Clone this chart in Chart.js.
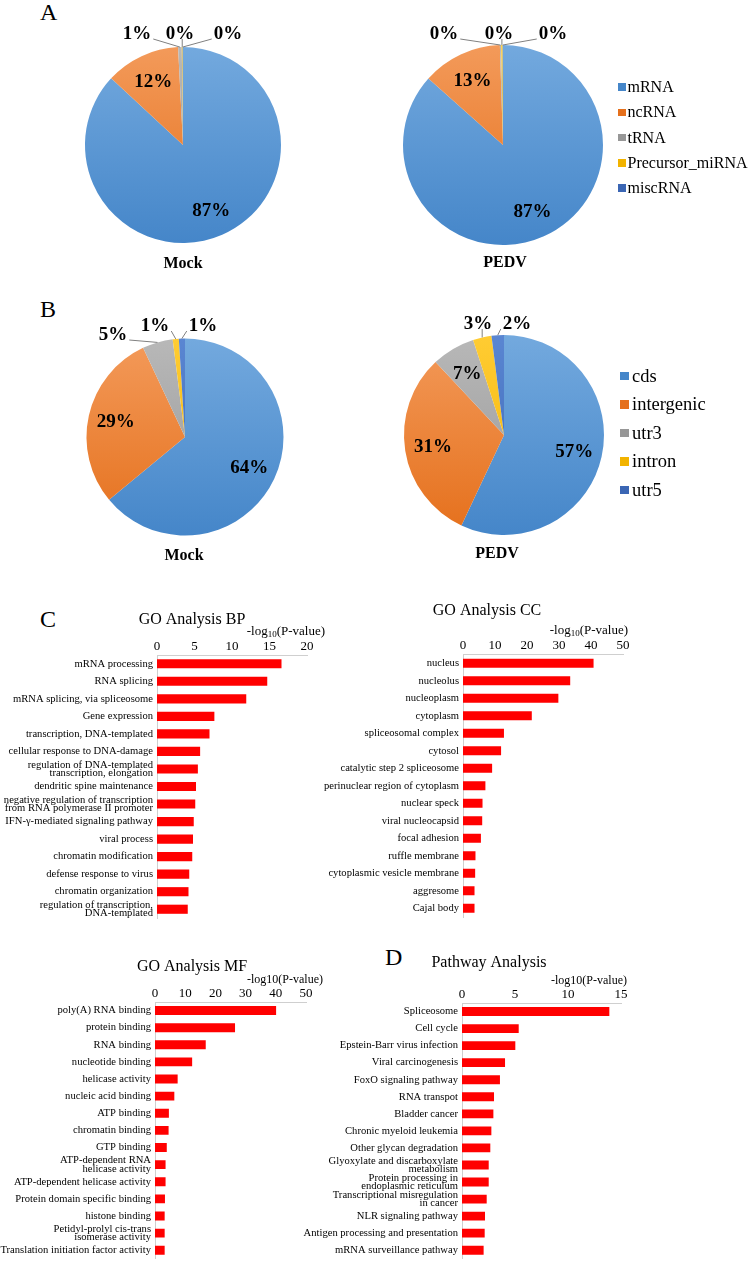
<!DOCTYPE html>
<html>
<head>
<meta charset="utf-8">
<script src="https://cdn.jsdelivr.net/npm/chart.js@4.4.1/dist/chart.umd.min.js"></script>
<style>
  body { margin: 0; background: #fff; }
  #page { position: relative; width: 748px; height: 1267px; overflow: hidden;
          font-family: "Liberation Serif", "Times New Roman", serif; color: #000; }
  #page canvas { position: absolute; }
  .letter { position: absolute; font-size: 24px; line-height: 24px; }
  .group { position: absolute; width: 100px; text-align: center; font-weight: bold;
           font-size: 16px; line-height: 16px; }
  .row { position: absolute; display: flex; align-items: center; white-space: nowrap; }
  .row span { display: inline-block; }
</style>
</head>
<body>
<div id="page">
  <div class="letter" style="left:40px;top:0px">A</div>
  <div class="letter" style="left:40px;top:297px">B</div>
  <div class="letter" style="left:40px;top:607px">C</div>
  <div class="letter" style="left:385px;top:945px">D</div>

  <canvas id="pieA1" width="260" height="260" style="left:53px;top:15px"></canvas>
  <canvas id="pieA2" width="260" height="260" style="left:373px;top:15px"></canvas>
  <canvas id="pieB1" width="260" height="260" style="left:55px;top:307px"></canvas>
  <canvas id="pieB2" width="260" height="260" style="left:374px;top:305px"></canvas>

  <div class="group" style="left:133px;top:255px">Mock</div>
  <div class="group" style="left:455px;top:254px">PEDV</div>
  <div class="group" style="left:134px;top:547px">Mock</div>
  <div class="group" style="left:447px;top:545px">PEDV</div>

  <div id="legendA"></div>
  <div id="legendB"></div>

  <canvas id="barBP" width="384" height="330" style="left:0px;top:600px"></canvas>
  <canvas id="barCC" width="374" height="330" style="left:300px;top:600px"></canvas>
  <canvas id="barMF" width="384" height="327" style="left:0px;top:940px"></canvas>
  <canvas id="barPW" width="398" height="327" style="left:290px;top:940px"></canvas>
</div>

<script>
// ---- A: RNA types (%) ----
const rnaTypes = ["mRNA", "ncRNA", "tRNA", "Precursor_miRNA", "miscRNA"];
const rnaMock = [86.9, 12.3, 0.6, 0.15, 0.05];
const rnaPedv = [86.6, 12.9, 0.2, 0.25, 0.05];

// ---- B: genomic regions (%) ----
const regions = ["cds", "intergenic", "utr3", "intron", "utr5"];
const regionMock = [64, 29, 5, 1, 1];
const regionPedv = [57, 31, 7, 3, 2];

// ---- C: GO terms, -log10(P-value) ----
const bpTerms = ["mRNA processing", "RNA splicing", "mRNA splicing, via spliceosome", "Gene expression",
  "transcription, DNA-templated", "cellular response to DNA-damage",
  ["regulation of DNA-templated", "transcription, elongation"], "dendritic spine maintenance",
  ["negative regulation of transcription", "from RNA polymerase II promoter"],
  "IFN-\u03b3-mediated signaling pathway", "viral process", "chromatin modification",
  "defense response to virus", "chromatin organization", ["regulation of transcription,", "DNA-templated"]];
const bpValues = [16.6, 14.7, 11.9, 7.65, 7.0, 5.75, 5.45, 5.2, 5.1, 4.9, 4.8, 4.7, 4.3, 4.2, 4.1];

const ccTerms = ["nucleus", "nucleolus", "nucleoplasm", "cytoplasm", "spliceosomal complex", "cytosol",
  "catalytic step 2 spliceosome", "perinuclear region of cytoplasm", "nuclear speck", "viral nucleocapsid",
  "focal adhesion", "ruffle membrane", "cytoplasmic vesicle membrane", "aggresome", "Cajal body"];
const ccValues = [40.8, 33.5, 29.8, 21.5, 12.8, 11.9, 9.1, 7.0, 6.1, 6.0, 5.6, 3.9, 3.8, 3.6, 3.6];

const mfTerms = ["poly(A) RNA binding", "protein binding", "RNA binding", "nucleotide binding",
  "helicase activity", "nucleic acid binding", "ATP binding", "chromatin binding", "GTP binding",
  ["ATP-dependent RNA", "helicase activity"], "ATP-dependent helicase activity",
  "Protein domain specific binding", "histone binding", ["Petidyl-prolyl cis-trans", "isomerase activity"],
  "Translation initiation factor activity"];
const mfValues = [40.1, 26.5, 16.8, 12.3, 7.5, 6.4, 4.6, 4.5, 3.9, 3.5, 3.5, 3.3, 3.2, 3.2, 3.2];

// ---- D: KEGG pathways, -log10(P-value) ----
const pathways = ["Spliceosome", "Cell cycle", "Epstein-Barr virus infection", "Viral carcinogenesis",
  "FoxO signaling pathway", "RNA transpot", "Bladder cancer", "Chronic myeloid leukemia",
  "Other glycan degradation", ["Glyoxylate and discarboxylate", "metabolism"],
  ["Protein processing in", "endoplasmic reticulum"], ["Transcriptional misregulation", "in cancer"],
  "NLR signaling pathway", "Antigen processing and presentation", "mRNA surveillance pathway"];
const pathwayValues = [13.9, 5.35, 5.03, 4.06, 3.58, 3.02, 2.96, 2.77, 2.67, 2.52, 2.52, 2.33, 2.17, 2.14, 2.04];

const SERIF = '"Liberation Serif", "Times New Roman", serif';
// top / bottom colours of the office-style gradient fill
const sliceColors = [
  ["#73a9de", "#4586c9"],
  ["#f39a5a", "#e5701c"],
  ["#b8b8b8", "#979797"],
  ["#ffcc33", "#f2b300"],
  ["#5a86d2", "#3b66b4"]
];

function sliceFill(ctx) {
  const c = sliceColors[ctx.dataIndex];
  const area = ctx.chart.chartArea;
  if (!area) return c[0];
  const g = ctx.chart.ctx.createLinearGradient(0, area.top, 0, area.bottom);
  g.addColorStop(0, c[0]);
  g.addColorStop(1, c[1]);
  return g;
}

// percentage labels, inside the big slices and outside with a leader line for the thin ones
const pieLabels = {
  id: "pieLabels",
  afterDatasetsDraw(chart, args, opts) {
    const meta = chart.getDatasetMeta(0);
    const data = chart.data.datasets[0].data;
    const total = data.reduce((a, b) => a + b, 0);
    const ctx = chart.ctx;
    ctx.save();
    ctx.font = "bold 19px " + SERIF;
    ctx.fillStyle = "#000";
    ctx.textAlign = "center";
    ctx.textBaseline = "middle";
    meta.data.forEach((arc, i) => {
      const txt = Math.round(data[i] / total * 100) + "%";
      const mid = (arc.startAngle + arc.endAngle) / 2;
      const out = opts.outside[i];
      if (!out) {
        const r = arc.outerRadius * 0.72;
        ctx.fillText(txt, arc.x + Math.cos(mid) * r, arc.y + Math.sin(mid) * r + 1);
        return;
      }
      const lx = arc.x + out.dx, ly = arc.y + out.dy;
      const half = ctx.measureText(txt).width / 2;
      const px = arc.x + Math.cos(mid) * arc.outerRadius;
      const py = arc.y + Math.sin(mid) * arc.outerRadius;
      const sx = Math.min(Math.max(px, lx - half - 2), lx + half + 2);
      ctx.strokeStyle = "#808080";
      ctx.lineWidth = 1;
      ctx.beginPath();
      ctx.moveTo(sx, ly + 6);
      ctx.lineTo(px, py);
      ctx.stroke();
      ctx.fillText(txt, lx, ly + 1);
    });
    ctx.restore();
  }
};

function pieChart(id, labels, values, radius, outside) {
  return new Chart(document.getElementById(id), {
    type: "pie",
    data: {
      labels: labels,
      datasets: [{ data: values, backgroundColor: sliceFill, borderWidth: 0 }]
    },
    options: {
      responsive: false,
      animation: false,
      layout: { padding: 130 - radius },
      plugins: {
        legend: { display: false },
        tooltip: { enabled: false },
        pieLabels: { outside: outside }
      }
    },
    plugins: [pieLabels]
  });
}

pieChart("pieA1", rnaTypes, rnaMock, 98,
  { 2: { dx: -46, dy: -112 }, 3: { dx: -3, dy: -112 }, 4: { dx: 45, dy: -112 } });
pieChart("pieA2", rnaTypes, rnaPedv, 100,
  { 2: { dx: -59, dy: -112 }, 3: { dx: -4, dy: -112 }, 4: { dx: 50, dy: -112 } });
pieChart("pieB1", regions, regionMock, 98.5,
  { 2: { dx: -72, dy: -103 }, 3: { dx: -30, dy: -112 }, 4: { dx: 18, dy: -112 } });
pieChart("pieB2", regions, regionPedv, 100,
  { 3: { dx: -26, dy: -112 }, 4: { dx: 13, dy: -112 } });

function legend(id, labels, left, top, step, box, gap, size) {
  const el = document.getElementById(id);
  labels.forEach((name, i) => {
    const row = document.createElement("div");
    row.className = "row";
    row.style.left = left + "px";
    row.style.top = (top + i * step - size / 2) + "px";
    row.style.height = size + "px";
    row.style.fontSize = size + "px";
    row.style.lineHeight = size + "px";
    const sw = document.createElement("span");
    sw.style.width = box + "px";
    sw.style.height = box + "px";
    sw.style.marginRight = gap + "px";
    sw.style.background = sliceColors[i][1];
    row.appendChild(sw);
    row.appendChild(document.createTextNode(name));
    el.appendChild(row);
  });
}
legend("legendA", rnaTypes, 618, 87, 25.3, 7.5, 2, 16);
legend("legendB", regions, 620, 376, 28.5, 8.5, 3.5, 18.5);

// chart title and the -log10(P-value) axis caption
const barHeads = {
  id: "barHeads",
  afterDraw(chart, args, o) {
    const { ctx, chartArea: a } = chart;
    ctx.save();
    ctx.fillStyle = "#000";
    ctx.textBaseline = "middle";
    ctx.textAlign = "center";
    ctx.font = "16px " + SERIF;
    ctx.fillText(o.title, a.left + o.titleDx, a.top + o.titleDy);

    const big = o.axisSize + "px " + SERIF;
    const small = Math.round(o.axisSize * 0.7) + "px " + SERIF;
    const parts = o.subscript
      ? [["-log", big, 0], ["10", small, 3], ["(P-value)", big, 0]]
      : [["-log10(P-value)", big, 0]];
    let w = 0;
    parts.forEach(p => { ctx.font = p[1]; w += ctx.measureText(p[0]).width; });
    let x = a.right + o.axisDx - w;
    ctx.textAlign = "left";
    parts.forEach(p => {
      ctx.font = p[1];
      ctx.fillText(p[0], x, a.top + o.axisDy + p[2]);
      x += ctx.measureText(p[0]).width;
    });
    ctx.restore();
  }
};

function barChart(id, terms, values, g) {
  return new Chart(document.getElementById(id), {
    type: "bar",
    data: {
      labels: terms,
      datasets: [{
        data: values,
        backgroundColor: "#ff0000",
        categoryPercentage: 1,
        barPercentage: 0.52
      }]
    },
    options: {
      indexAxis: "y",
      responsive: false,
      animation: false,
      layout: { padding: { left: 0, top: 0, right: g.padRight, bottom: g.padBottom } },
      scales: {
        x: {
          position: "top",
          min: 0,
          max: g.max,
          ticks: { stepSize: g.step, padding: 1, color: "#000", font: { family: SERIF, size: 13 } },
          grid: { display: false, drawTicks: false },
          border: { color: "#cfcfcf" },
          afterFit: axis => { axis.height = g.top; }
        },
        y: {
          ticks: { padding: 4, autoSkip: false, color: "#000",
                   font: { family: SERIF, size: 10.6, lineHeight: 0.8 } },
          grid: { display: false, drawTicks: false },
          border: { color: "#cfcfcf" },
          afterFit: axis => { axis.width = g.left; }
        }
      },
      plugins: {
        legend: { display: false },
        tooltip: { enabled: false },
        barHeads: g.heads
      }
    },
    plugins: [barHeads]
  });
}

barChart("barBP", bpTerms, bpValues, {
  left: 157, top: 55, padRight: 77, padBottom: 12, max: 20, step: 5,
  heads: { title: "GO Analysis BP", titleDx: 35, titleDy: -35, axisSize: 13, subscript: true, axisDx: 18, axisDy: -23 }
});
barChart("barCC", ccTerms, ccValues, {
  left: 163, top: 54.5, padRight: 51, padBottom: 13, max: 50, step: 10,
  heads: { title: "GO Analysis CC", titleDx: 24, titleDy: -43.5, axisSize: 13, subscript: true, axisDx: 5, axisDy: -23.5 }
});
barChart("barMF", mfTerms, mfValues, {
  left: 155, top: 62, padRight: 78, padBottom: 5.5, max: 50, step: 10,
  heads: { title: "GO Analysis MF", titleDx: 37, titleDy: -35, axisSize: 12, subscript: false, axisDx: 17, axisDy: -22 }
});
barChart("barPW", pathways, pathwayValues, {
  left: 172, top: 63, padRight: 67, padBottom: 1.5, max: 15, step: 5,
  heads: { title: "Pathway Analysis", titleDx: 27, titleDy: -40, axisSize: 12, subscript: false, axisDx: 6, axisDy: -22 }
});
</script>
</body>
</html>
